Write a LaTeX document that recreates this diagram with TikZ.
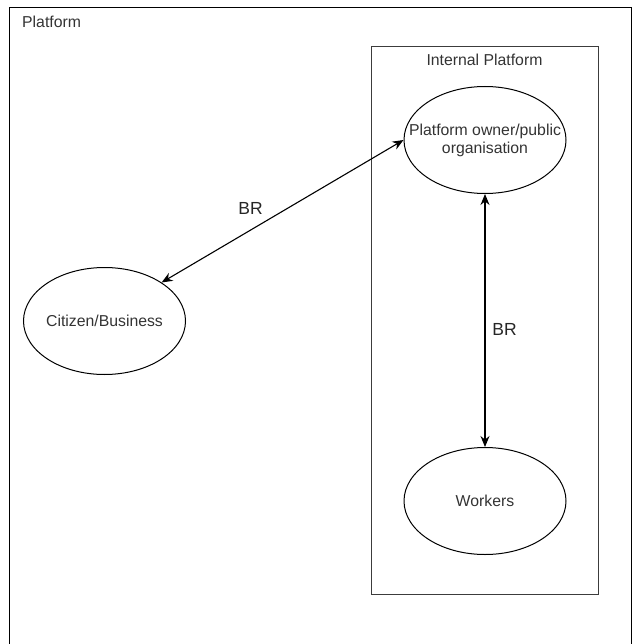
\documentclass[tikz,border=0pt]{standalone}
\usepackage{fontspec}
\setmainfont{Liberation Sans}
\usepackage{tikz}
\usetikzlibrary{
  positioning,
  arrows.meta,
  shapes.geometric
}
\usepackage{xcolor}
\definecolor{ink}{HTML}{333333}
\definecolor{frame}{HTML}{3C3C3C}

\begin{document}
\begin{tikzpicture}[
  x=1pt, y=-1pt,
  lbl/.style={font=\fontsize{15.8}{18}\selectfont, text=ink, inner sep=0pt},
  actor/.style={ellipse, draw, line width=1pt, minimum width=162pt,
                minimum height=107pt, inner sep=0pt},
  group/.style={draw=frame, line width=1pt, inner sep=0pt},
  arr/.style={{Stealth[length=11pt,width=9pt]}-{Stealth[length=11pt,width=9pt]}, line width=1.1pt},
  rel/.style={font=\fontsize{17.5}{19}\selectfont, text=black!85, inner sep=0pt}
]
  \useasboundingbox (0,0) rectangle (639,644);

  % Outer platform (runs off the bottom)
  \draw[line width=1pt] (9,660) |- (631,8) -- (631,660);
  \node[lbl, anchor=west] (platform) at (22,22) {Platform};

  % Internal platform
  \node[group, minimum width=227pt, minimum height=547pt] (internal) at (484.5,320.5) {};
  \node[lbl] (internallbl) at (484.5,60) {Internal Platform};

  % Actors
  \node[actor, label={[lbl, align=center]center:Platform owner/public\\organisation}]
    (owner) at (485,140) {};
  \node[actor] (workers) at (485,501) {};
  \node[lbl] at (workers.center) {Workers};
  \node[actor] (citizen) at (104.5,321) {};
  \node[lbl] at (citizen.center) {Citizen/Business};

  % Relations
  \draw[arr] (citizen.34) -- (owner.west);
  \draw[arr] (owner.south) -- (workers.north);

  % Labels
  \node[rel] (br1) at (250.5,208.5) {BR};
  \node[rel] (br2) at (504.5,329) {BR};
\end{tikzpicture}
\end{document}
